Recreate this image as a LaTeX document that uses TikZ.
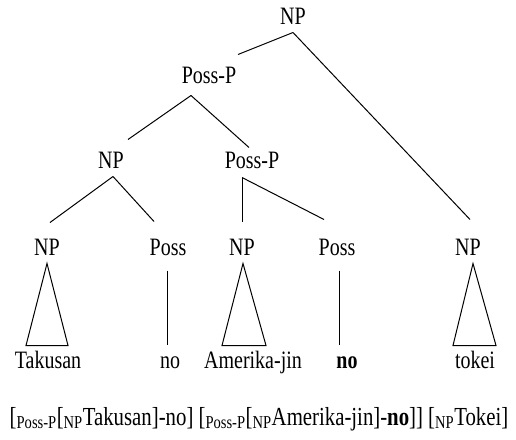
\documentclass[tikz,border=0pt]{standalone}
\usepackage{fontspec}
\setmainfont{Liberation Serif}[FakeStretch=0.8]
\begin{document}
\begin{tikzpicture}[x=1pt,y=-1pt,line width=1pt,
        lbl/.style={inner sep=0pt,anchor=base,text height=15pt,text depth=3pt,font=\fontsize{25}{29}\selectfont}]
    \useasboundingbox (0,0) rectangle (516,439);
    % categories
    \node[lbl] (root) at (293,24) {NP};
    \node[lbl] (pp1) at (209,83) {Poss-P};
    \node[lbl] (np2) at (111,168) {NP};
    \node[lbl] (pp2) at (252,168) {Poss-P};
    \node[lbl] (npA) at (47,255) {NP};
    \node[lbl] (possA) at (168,255) {Poss};
    \node[lbl] (npB) at (242,255) {NP};
    \node[lbl] (possB) at (337,255) {Poss};
    \node[lbl] (npC) at (468,255) {NP};
    % words
    \node[lbl] (tak) at (48,368) {Takusan};
    \node[lbl] (noA) at (170,368) {no};
    \node[lbl] (ame) at (253,368) {Amerika-jin};
    \node[lbl] (noB) at (347,368) {\textbf{no}};
    \node[lbl] (tok) at (475,368) {tokei};
    \node[lbl,font=\fontsize{26}{30}\selectfont] (gloss) at (259,425) {[\textsubscript{Poss-P}[\textsubscript{NP}Takusan]-no] [\textsubscript{Poss-P}[\textsubscript{NP}Amerika-jin]-\textbf{no}]] [\textsubscript{NP}Tokei]};
    % branches
    \draw ([shift={(0,5)}]root.south)--([shift={(29,-13)}]pp1.north);
    \draw ([shift={(0,5)}]root.south)--([shift={(2,-20)}]npC.north);
    \draw ([shift={(-18,9)}]pp1.south)--([shift={(17,-13)}]np2.north);
    \draw ([shift={(-18,9)}]pp1.south)--([shift={(-3,-5)}]pp2.north);
    \draw ([shift={(2,5)}]np2.south)--([shift={(3,-17)}]npA.north);
    \draw ([shift={(2,5)}]np2.south)--([shift={(-14,-18)}]possA.north);
    \draw ([shift={(-10,6)}]pp2.south)--([shift={(0,-18)}]npB.north);
    \draw ([shift={(-10,6)}]pp2.south)--([shift={(-13,-20)}]possB.north);
    % triangles and lines to the words
    \draw ([shift={(0,5)}]npA.south)--([shift={(-22,-7)}]tak.north)--([shift={(20,-7)}]tak.north)--cycle;
    \draw ([shift={(-1,12)}]possA.south)--([shift={(-3,-8)}]noA.north);
    \draw ([shift={(1,5)}]npB.south)--([shift={(-31,-7)}]ame.north)--([shift={(13,-7)}]ame.north)--cycle;
    \draw ([shift={(2,12)}]possB.south)--([shift={(-8,-8)}]noB.north);
    \draw ([shift={(5,5)}]npC.south)--([shift={(-22,-7)}]tok.north)--([shift={(21,-7)}]tok.north)--cycle;
\end{tikzpicture}
\end{document}
